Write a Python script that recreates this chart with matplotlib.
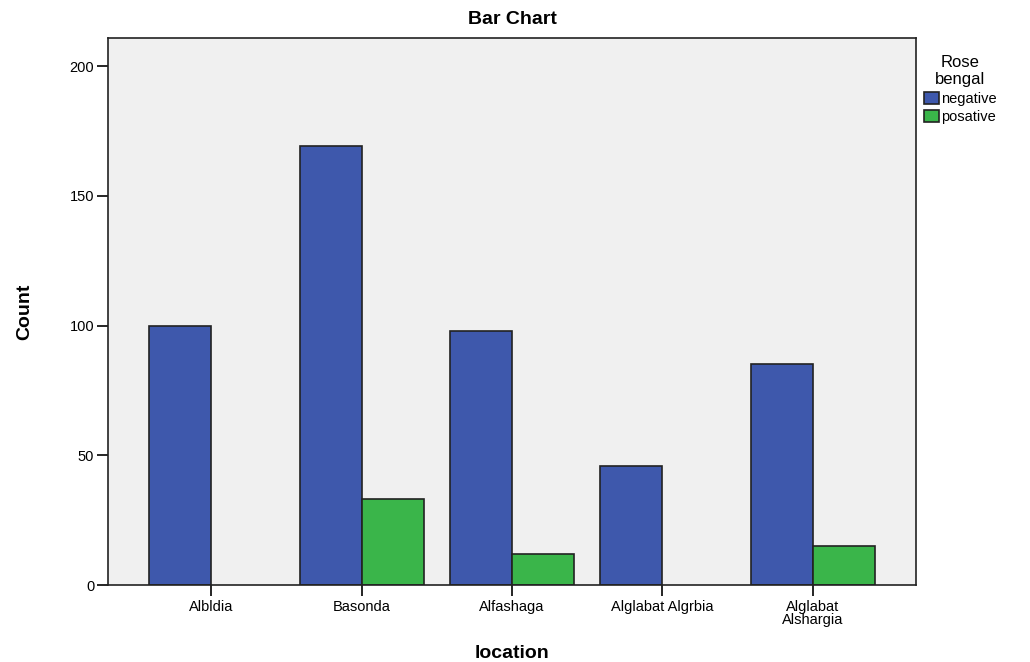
import matplotlib.pyplot as plt
import numpy as np

plt.rcParams['font.family'] = ['Liberation Sans', 'DejaVu Sans']

locations = ['Albldia', 'Basonda', 'Alfashaga', 'Alglabat Algrbia', 'Alglabat\nAlshargia']
negative = np.array([100, 169, 98, 46, 85])
posative = np.array([0, 33, 12, 0, 15])

blue = '#3e58ac'
green = '#3ab54a'

fig = plt.figure(figsize=(10.3, 6.62), dpi=100)
ax = fig.add_axes([0.1049, 0.1163, 0.7844, 0.8263])
ax.set_facecolor('#f0f0f0')

x = np.arange(len(locations))
width = 0.413
# empty cells get no bar at all (a zero-height bar still shows its outline)
m = negative > 0
ax.bar(x[m] - width / 2, negative[m], width, color=blue, edgecolor='#222222', linewidth=1.2, label='negative')
m = posative > 0
ax.bar(x[m] + width / 2, posative[m], width, color=green, edgecolor='#222222', linewidth=1.2, label='posative')

ax.set_xlim(-0.686, 4.686)
ax.set_ylim(0, 210.8)
ax.set_xticks(x)
ax.set_xticklabels(locations, fontsize=10.5, linespacing=0.85)
ax.set_yticks([0, 50, 100, 150, 200])
ax.tick_params(axis='y', direction='out', length=8, width=1.2, labelsize=10.5, pad=2)
ax.tick_params(axis='x', direction='out', length=8, width=1.2, pad=3)
for s in ax.spines.values():
    s.set_linewidth(1.2)
    s.set_color('#222222')

ax.set_title('Bar Chart', fontsize=14, fontweight='bold', pad=10)
ax.set_ylabel('Count', fontsize=14, fontweight='bold', labelpad=26, fontstretch='condensed')
ax.set_xlabel('location', fontsize=14, fontweight='bold', labelpad=13)

leg = ax.legend(title='Rose\nbengal', loc='upper left', bbox_to_anchor=(0.999, 0.985),
                frameon=False, fontsize=10.5, title_fontsize=12,
                handlelength=1.0, handleheight=0.9, handletextpad=0.15,
                labelspacing=0.3, borderaxespad=0.2)
leg.get_title().set_multialignment('center')

fig.savefig('out.png', dpi=100)
